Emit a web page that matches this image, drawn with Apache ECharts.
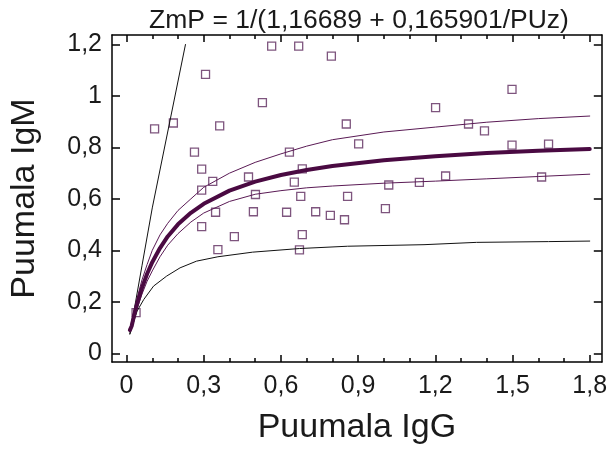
<!DOCTYPE html>
<html>
<head>
<meta charset="utf-8">
<script src="https://cdn.jsdelivr.net/npm/echarts@6/dist/echarts.min.js"></script>
<style>
  html, body { margin: 0; padding: 0; background: #fff; }
  #chart { width: 610px; height: 450px; }
</style>
</head>
<body>
<div id="chart"></div>
<script>
// measured points (Puumala IgG / IgM)
var pointsIgG = [0.109, 0.182, 0.307, 0.362, 0.264, 0.292, 0.335, 0.292, 0.474, 0.528, 0.564, 0.669, 0.796, 0.633, 0.683,
    0.652, 0.854, 0.902, 1.201, 1.329, 1.391, 1.498, 1.498, 1.640, 1.019, 1.138, 1.240, 1.613, 0.501, 0.677, 0.859,
    0.346, 0.493, 0.622, 0.735, 0.792, 0.847, 0.292, 0.419, 0.683, 0.355, 0.672, 1.006, 0.037];
var pointsIgM = [0.872, 0.895, 1.084, 0.884, 0.782, 0.716, 0.668, 0.634, 0.685, 0.974, 1.194, 1.194, 1.155, 0.782, 0.717,
    0.665, 0.891, 0.814, 0.955, 0.891, 0.864, 1.026, 0.809, 0.813, 0.654, 0.664, 0.689, 0.685, 0.617, 0.610, 0.610,
    0.548, 0.550, 0.548, 0.550, 0.536, 0.519, 0.492, 0.453, 0.461, 0.403, 0.402, 0.562, 0.158];

var curveX = [0.013, 0.02, 0.03, 0.04, 0.06, 0.08, 0.1, 0.13, 0.16, 0.2, 0.25, 0.3, 0.4, 0.5, 0.6, 0.7, 0.8, 1.0, 1.2, 1.4, 1.6, 1.8];
// fitted curve ZmP
var fitY = [0.09, 0.106, 0.15, 0.188, 0.254, 0.309, 0.354, 0.409, 0.454, 0.501, 0.546, 0.581, 0.632, 0.667, 0.693, 0.712, 0.728, 0.75, 0.766, 0.778, 0.787, 0.794];
// band around it
var upperY = [0.09, 0.125, 0.17, 0.21, 0.285, 0.345, 0.40, 0.46, 0.505, 0.555, 0.60, 0.645, 0.70, 0.742, 0.775, 0.805, 0.83, 0.86, 0.879, 0.898, 0.912, 0.922];
var lowerY = [0.09, 0.10, 0.135, 0.17, 0.23, 0.28, 0.32, 0.375, 0.42, 0.465, 0.51, 0.545, 0.59, 0.618, 0.632, 0.643, 0.65, 0.661, 0.669, 0.678, 0.687, 0.696];

// black curves
var baseX = [0.013, 0.041, 0.067, 0.105, 0.156, 0.208, 0.272, 0.355, 0.49, 0.672, 0.859, 1.156, 1.36, 1.64, 1.8];
var baseY = [0.075, 0.164, 0.209, 0.261, 0.30, 0.332, 0.358, 0.375, 0.393, 0.407, 0.416, 0.422, 0.431, 0.434, 0.436];

var steepX = [0.013, 0.06, 0.1, 0.229];
var steepY = [0.075, 0.34, 0.565, 1.2];

// tick values
var xMajor = [0, 0.3, 0.6, 0.9, 1.2, 1.5, 1.8];
var xMinor = [0.1, 0.2, 0.4, 0.5, 0.7, 0.8, 1.0, 1.1, 1.3, 1.4, 1.6, 1.7];
var yMajor = [0, 0.2, 0.4, 0.6, 0.8, 1.0, 1.2];

var FONT = 'Liberation Sans, Arial, sans-serif';

function pairs(xs, ys) {
    var arr = [];
    for (var i = 0; i < xs.length; i++) arr.push([xs[i], ys[i]]);
    return arr;
}

function fmt(v) {
    return String(Math.round(v * 10) / 10).replace('.', ',');
}

function lineSeries(xs, ys, color, width) {
    return {
        type: 'line',
        data: pairs(xs, ys),
        smooth: false,
        showSymbol: false,
        symbol: 'none',
        silent: true,
        lineStyle: { color: color, width: width, cap: 'round', join: 'round' },
        z: 3
    };
}

var xMin = -0.0565, xMax = 1.847;
var yMin = -0.034, yMax = 1.237;

function xAxisDef(pos, ticks, len, showLine, showLabel) {
    return {
        type: 'value', position: pos, min: xMin, max: xMax,
        splitLine: { show: false },
        axisLine: { show: showLine, onZero: false, lineStyle: { color: '#000', width: 1.5 } },
        axisTick: { show: true, inside: true, length: len, customValues: ticks, lineStyle: { color: '#000', width: 1.5 } },
        axisLabel: showLabel ? {
            show: true, customValues: ticks, margin: 12, fontSize: 25, color: '#1a1a1a', fontFamily: FONT,
            formatter: fmt
        } : { show: false }
    };
}

function yAxisDef(pos, showLabel) {
    return {
        type: 'value', position: pos, min: yMin, max: yMax,
        splitLine: { show: false },
        axisLine: { show: true, onZero: false, lineStyle: { color: '#000', width: 1.5 } },
        axisTick: { show: true, inside: true, length: 8, customValues: yMajor, lineStyle: { color: '#000', width: 1.5 } },
        axisLabel: showLabel ? {
            show: true, customValues: yMajor, margin: 10, fontSize: 25, color: '#1a1a1a', fontFamily: FONT,
            formatter: fmt
        } : { show: false }
    };
}

var bottomAxis = xAxisDef('bottom', xMajor, 7, true, true);
bottomAxis.name = 'Puumala IgG';
bottomAxis.nameLocation = 'middle';
bottomAxis.nameGap = 49;
bottomAxis.nameTextStyle = { fontSize: 34, color: '#1a1a1a', fontFamily: FONT };

var leftAxis = yAxisDef('left', true);
leftAxis.name = 'Puumala IgM';
leftAxis.nameLocation = 'middle';
leftAxis.nameGap = 70;
leftAxis.nameTextStyle = { fontSize: 34, color: '#1a1a1a', fontFamily: FONT };

var chart = echarts.init(document.getElementById('chart'), null, { renderer: 'canvas' });
chart.setOption({
    animation: false,
    backgroundColor: '#fff',
    title: {
        text: 'ZmP = 1/(1,16689 + 0,165901/PUz)',
        left: 354, top: 2, textAlign: 'center',
        textStyle: { fontSize: 26.5, fontWeight: 'normal', color: '#1a1a1a', fontFamily: FONT }
    },
    grid: { left: 108, right: 7, top: 35, bottom: 87, containLabel: false },
    xAxis: [
        bottomAxis,
        xAxisDef('bottom', xMinor, 4, false, false),
        xAxisDef('top', xMajor, 7, true, false),
        xAxisDef('top', xMinor, 4, false, false)
    ],
    yAxis: [
        leftAxis,
        yAxisDef('right', false)
    ],
    series: [
        {
            type: 'scatter',
            data: pairs(pointsIgG, pointsIgM),
            symbol: 'rect',
            symbolSize: 8,
            itemStyle: { color: 'rgba(255,255,255,0)', borderColor: '#5e2a5e', borderWidth: 1.3 },
            z: 2
        },
        lineSeries(steepX, steepY, '#111', 1),
        lineSeries(baseX, baseY, '#111', 1),
        lineSeries(curveX, upperY, '#5a1a55', 1),
        lineSeries(curveX, lowerY, '#5a1a55', 1),
        lineSeries(curveX, fitY, '#4a0a42', 4)
    ]
});
</script>
</body>
</html>
